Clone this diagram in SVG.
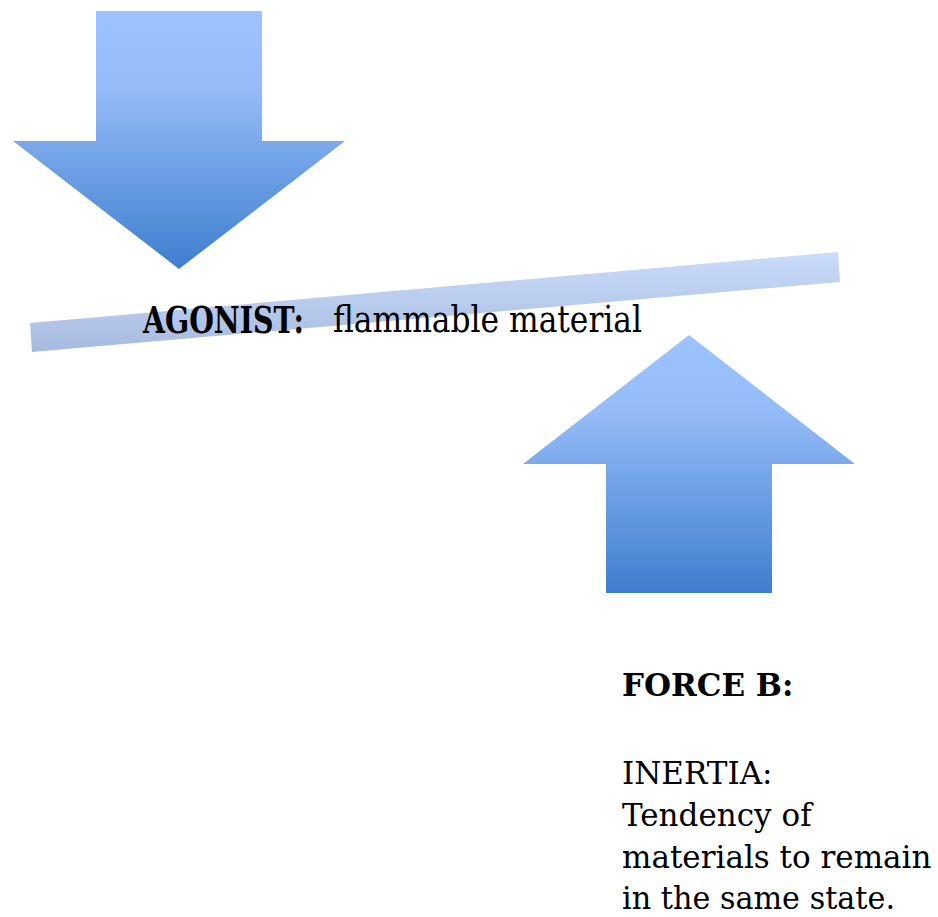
<svg xmlns="http://www.w3.org/2000/svg" width="938" height="917" viewBox="0 0 938 917">
  <defs>
    <linearGradient id="arrowGrad" x1="0" y1="0" x2="0" y2="1">
      <stop offset="0" stop-color="#9CC2FF"/>
      <stop offset="0.3" stop-color="#95BBF8"/>
      <stop offset="1" stop-color="#3E7ECE"/>
    </linearGradient>
    <linearGradient id="barGrad" gradientUnits="userSpaceOnUse" x1="0" y1="252" x2="0" y2="352">
      <stop offset="0" stop-color="#CADCFA"/>
      <stop offset="1" stop-color="#A7BBE0"/>
    </linearGradient>
    <style>
      .arrow { fill: url(#arrowGrad); }
      .bar { fill: url(#barGrad); }
      text { font-family: "DejaVu Serif", "Liberation Serif", serif; fill: #000; }
      .b { font-weight: bold; }
    </style>
  </defs>
  <g id="force-down">
    <polygon class="arrow" points="96,11 262,11 262,141 345,141 179,269 13,141 96,141"/>
  </g>
  <g id="lever">
    <polygon class="bar" points="30,323 838,252 840,282 32,352"/>
  </g>
  <g id="force-up">
    <polygon class="arrow" points="689,335 855,464 772,464 772,593 606,593 606,464 523,464"/>
  </g>
  <g id="connectors"/>
  <g id="agonist-label">
    <text class="b" x="143" y="333" font-size="37" textLength="161" lengthAdjust="spacingAndGlyphs">AGONIST:</text>
    <text x="333" y="332" font-size="37" textLength="309" lengthAdjust="spacingAndGlyphs">flammable material</text>
  </g>
  <g id="force-b-label">
    <text class="b" x="622" y="696" font-size="31">FORCE B:</text>
    <text x="622" y="784" font-size="31">INERTIA:</text>
    <text x="622" y="826" font-size="31">Tendency of</text>
    <text x="622" y="868" font-size="31">materials to remain</text>
    <text x="622" y="909" font-size="31" textLength="273" lengthAdjust="spacingAndGlyphs">in the same state.</text>
  </g>
</svg>
